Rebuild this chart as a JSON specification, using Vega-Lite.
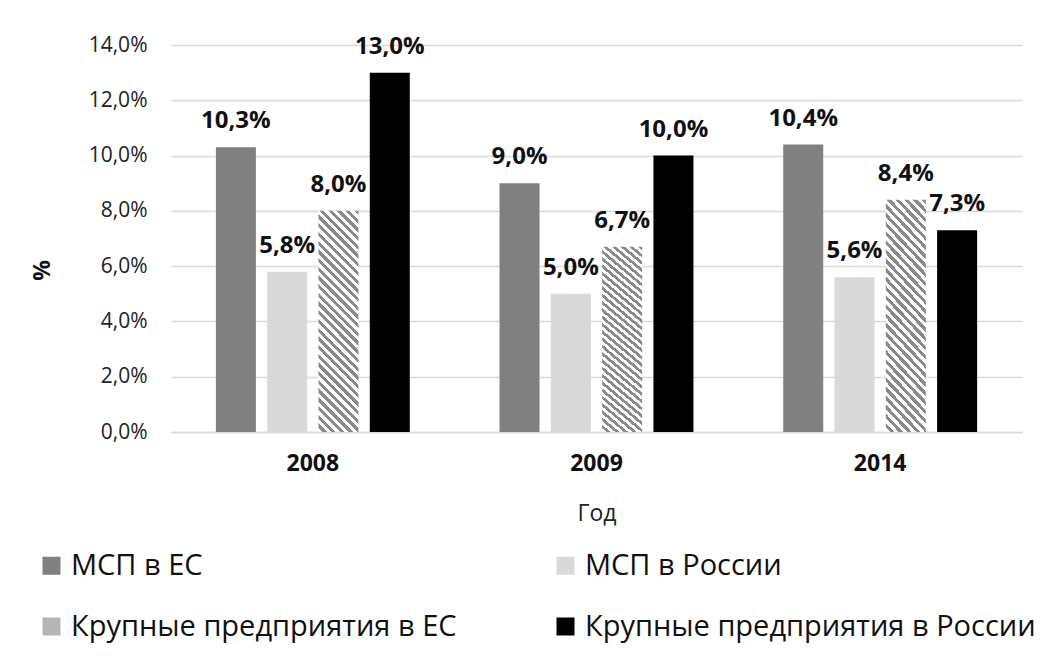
{
  "$schema": "https://vega.github.io/schema/vega-lite/v6.json",
  "autosize": "none",
  "width": 851,
  "height": 387,
  "padding": {"left": 171, "top": 45, "right": 29, "bottom": 240},
  "background": "#ffffff",
  "config": {
    "locale": {"number": {"decimal": ",", "thousands": " ", "grouping": [3], "currency": ["", " ₽"]}},
    "view": {"stroke": null},
    "font": "Open Sans"
  },
  "data": {
    "values": [
      {"year": "2008", "series": "МСП в ЕС", "value": 0.103},
      {"year": "2008", "series": "МСП в России", "value": 0.058},
      {"year": "2008", "series": "Крупные предприятия в ЕС", "value": 0.080},
      {"year": "2008", "series": "Крупные предприятия в России", "value": 0.130},
      {"year": "2009", "series": "МСП в ЕС", "value": 0.090},
      {"year": "2009", "series": "МСП в России", "value": 0.050},
      {"year": "2009", "series": "Крупные предприятия в ЕС", "value": 0.067},
      {"year": "2009", "series": "Крупные предприятия в России", "value": 0.100},
      {"year": "2014", "series": "МСП в ЕС", "value": 0.104},
      {"year": "2014", "series": "МСП в России", "value": 0.056},
      {"year": "2014", "series": "Крупные предприятия в ЕС", "value": 0.084},
      {"year": "2014", "series": "Крупные предприятия в России", "value": 0.073}
    ]
  },
  "encoding": {
    "x": {
      "field": "year", "type": "nominal",
      "scale": {"paddingInner": 0, "paddingOuter": 0},
      "axis": {
        "title": "Год", "titleFont": "Open Sans", "titleFontSize": 23, "titleFontWeight": "normal", "titleColor": "#222222",
        "titleBaseline": "middle", "titleY": 81,
        "labelAngle": 0, "labelFont": "Open Sans", "labelFontSize": 23, "labelFontWeight": "bold", "labelColor": "#111111",
        "labelPadding": 20, "ticks": false, "domainColor": "#d9d9d9", "domainWidth": 1.5
      }
    },
    "xOffset": {
      "field": "series", "type": "nominal",
      "sort": ["МСП в ЕС", "МСП в России", "Крупные предприятия в ЕС", "Крупные предприятия в России"],
      "scale": {"paddingInner": 0.22, "paddingOuter": 0.875}
    },
    "y": {
      "field": "value", "type": "quantitative",
      "scale": {"domain": [0, 0.14], "nice": false},
      "axis": {
        "values": [0, 0.02, 0.04, 0.06, 0.08, 0.1, 0.12, 0.14],
        "format": ".1%",
        "title": "%", "titleFont": "Open Sans", "titleFontSize": 23, "titleFontWeight": "bold", "titleColor": "#111111",
        "titleAngle": -90, "titleX": -129, "titleY": 225, "titleAlign": "center", "titleBaseline": "middle",
        "labelFont": "Open Sans", "labelFontSize": 21, "labelColor": "#222222", "labelPadding": 24,
        "ticks": false, "domain": false,
        "gridColor": "#d9d9d9", "gridWidth": 1.5
      }
    }
  },
  "layer": [
    {
      "mark": {"type": "bar"},
      "encoding": {
        "fill": {
          "condition": {
            "test": "datum.series === 'Крупные предприятия в ЕС'",
            "value": {"gradient": "linear", "x1": 1, "y1": 0, "x2": 0.793, "y2": 1.1435, "stops": [
                {"offset": 0, "color": "#8a8a8a"},
                {"offset": 0.0167, "color": "#8a8a8a"}, {"offset": 0.0167, "color": "#ffffff"},
                {"offset": 0.0333, "color": "#ffffff"}, {"offset": 0.0333, "color": "#8a8a8a"},
                {"offset": 0.05, "color": "#8a8a8a"}, {"offset": 0.05, "color": "#ffffff"},
                {"offset": 0.0667, "color": "#ffffff"}, {"offset": 0.0667, "color": "#8a8a8a"},
                {"offset": 0.0833, "color": "#8a8a8a"}, {"offset": 0.0833, "color": "#ffffff"},
                {"offset": 0.1, "color": "#ffffff"}, {"offset": 0.1, "color": "#8a8a8a"},
                {"offset": 0.1167, "color": "#8a8a8a"}, {"offset": 0.1167, "color": "#ffffff"},
                {"offset": 0.1333, "color": "#ffffff"}, {"offset": 0.1333, "color": "#8a8a8a"},
                {"offset": 0.15, "color": "#8a8a8a"}, {"offset": 0.15, "color": "#ffffff"},
                {"offset": 0.1667, "color": "#ffffff"}, {"offset": 0.1667, "color": "#8a8a8a"},
                {"offset": 0.1833, "color": "#8a8a8a"}, {"offset": 0.1833, "color": "#ffffff"},
                {"offset": 0.2, "color": "#ffffff"}, {"offset": 0.2, "color": "#8a8a8a"},
                {"offset": 0.2167, "color": "#8a8a8a"}, {"offset": 0.2167, "color": "#ffffff"},
                {"offset": 0.2333, "color": "#ffffff"}, {"offset": 0.2333, "color": "#8a8a8a"},
                {"offset": 0.25, "color": "#8a8a8a"}, {"offset": 0.25, "color": "#ffffff"},
                {"offset": 0.2667, "color": "#ffffff"}, {"offset": 0.2667, "color": "#8a8a8a"},
                {"offset": 0.2833, "color": "#8a8a8a"}, {"offset": 0.2833, "color": "#ffffff"},
                {"offset": 0.3, "color": "#ffffff"}, {"offset": 0.3, "color": "#8a8a8a"},
                {"offset": 0.3167, "color": "#8a8a8a"}, {"offset": 0.3167, "color": "#ffffff"},
                {"offset": 0.3333, "color": "#ffffff"}, {"offset": 0.3333, "color": "#8a8a8a"},
                {"offset": 0.35, "color": "#8a8a8a"}, {"offset": 0.35, "color": "#ffffff"},
                {"offset": 0.3667, "color": "#ffffff"}, {"offset": 0.3667, "color": "#8a8a8a"},
                {"offset": 0.3833, "color": "#8a8a8a"}, {"offset": 0.3833, "color": "#ffffff"},
                {"offset": 0.4, "color": "#ffffff"}, {"offset": 0.4, "color": "#8a8a8a"},
                {"offset": 0.4167, "color": "#8a8a8a"}, {"offset": 0.4167, "color": "#ffffff"},
                {"offset": 0.4333, "color": "#ffffff"}, {"offset": 0.4333, "color": "#8a8a8a"},
                {"offset": 0.45, "color": "#8a8a8a"}, {"offset": 0.45, "color": "#ffffff"},
                {"offset": 0.4667, "color": "#ffffff"}, {"offset": 0.4667, "color": "#8a8a8a"},
                {"offset": 0.4833, "color": "#8a8a8a"}, {"offset": 0.4833, "color": "#ffffff"},
                {"offset": 0.5, "color": "#ffffff"}, {"offset": 0.5, "color": "#8a8a8a"},
                {"offset": 0.5167, "color": "#8a8a8a"}, {"offset": 0.5167, "color": "#ffffff"},
                {"offset": 0.5333, "color": "#ffffff"}, {"offset": 0.5333, "color": "#8a8a8a"},
                {"offset": 0.55, "color": "#8a8a8a"}, {"offset": 0.55, "color": "#ffffff"},
                {"offset": 0.5667, "color": "#ffffff"}, {"offset": 0.5667, "color": "#8a8a8a"},
                {"offset": 0.5833, "color": "#8a8a8a"}, {"offset": 0.5833, "color": "#ffffff"},
                {"offset": 0.6, "color": "#ffffff"}, {"offset": 0.6, "color": "#8a8a8a"},
                {"offset": 0.6167, "color": "#8a8a8a"}, {"offset": 0.6167, "color": "#ffffff"},
                {"offset": 0.6333, "color": "#ffffff"}, {"offset": 0.6333, "color": "#8a8a8a"},
                {"offset": 0.65, "color": "#8a8a8a"}, {"offset": 0.65, "color": "#ffffff"},
                {"offset": 0.6667, "color": "#ffffff"}, {"offset": 0.6667, "color": "#8a8a8a"},
                {"offset": 0.6833, "color": "#8a8a8a"}, {"offset": 0.6833, "color": "#ffffff"},
                {"offset": 0.7, "color": "#ffffff"}, {"offset": 0.7, "color": "#8a8a8a"},
                {"offset": 0.7167, "color": "#8a8a8a"}, {"offset": 0.7167, "color": "#ffffff"},
                {"offset": 0.7333, "color": "#ffffff"}, {"offset": 0.7333, "color": "#8a8a8a"},
                {"offset": 0.75, "color": "#8a8a8a"}, {"offset": 0.75, "color": "#ffffff"},
                {"offset": 0.7667, "color": "#ffffff"}, {"offset": 0.7667, "color": "#8a8a8a"},
                {"offset": 0.7833, "color": "#8a8a8a"}, {"offset": 0.7833, "color": "#ffffff"},
                {"offset": 0.8, "color": "#ffffff"}, {"offset": 0.8, "color": "#8a8a8a"},
                {"offset": 0.8167, "color": "#8a8a8a"}, {"offset": 0.8167, "color": "#ffffff"},
                {"offset": 0.8333, "color": "#ffffff"}, {"offset": 0.8333, "color": "#8a8a8a"},
                {"offset": 0.85, "color": "#8a8a8a"}, {"offset": 0.85, "color": "#ffffff"},
                {"offset": 0.8667, "color": "#ffffff"}, {"offset": 0.8667, "color": "#8a8a8a"},
                {"offset": 0.8833, "color": "#8a8a8a"}, {"offset": 0.8833, "color": "#ffffff"},
                {"offset": 0.9, "color": "#ffffff"}, {"offset": 0.9, "color": "#8a8a8a"},
                {"offset": 0.9167, "color": "#8a8a8a"}, {"offset": 0.9167, "color": "#ffffff"},
                {"offset": 0.9333, "color": "#ffffff"}, {"offset": 0.9333, "color": "#8a8a8a"},
                {"offset": 0.95, "color": "#8a8a8a"}, {"offset": 0.95, "color": "#ffffff"},
                {"offset": 0.9667, "color": "#ffffff"}, {"offset": 0.9667, "color": "#8a8a8a"},
                {"offset": 0.9833, "color": "#8a8a8a"}, {"offset": 0.9833, "color": "#ffffff"},
                {"offset": 1, "color": "#ffffff"}
              ]}
          },
          "field": "series", "type": "nominal",
          "scale": {
            "domain": ["МСП в ЕС", "МСП в России", "Крупные предприятия в ЕС", "Крупные предприятия в России"],
            "range": ["#808080", "#d9d9d9", "#b5b5b5", "#000000"]
          },
          "legend": {
            "title": null, "orient": "none", "legendX": -134, "legendY": 506,
            "direction": "horizontal", "columns": 2, "columnPadding": 94, "rowPadding": 31,
            "symbolType": "square", "symbolSize": 324, "symbolStrokeWidth": 0,
            "labelFont": "Open Sans", "labelFontSize": 29, "labelColor": "#111111", "labelLimit": 0, "labelOffset": 5,
            "encode": {
              "symbols": {
                "update": {
                  "fill": [
                    {"test": "datum.value === 'Крупные предприятия в ЕС'", "value": {"gradient": "linear", "x1": 1, "y1": 0, "x2": 0, "y2": 1, "stops": [
                      {"offset": 0, "color": "#ffffff"}, {"offset": 0.14, "color": "#ffffff"},
                      {"offset": 0.14, "color": "#8a8a8a"}, {"offset": 0.28, "color": "#8a8a8a"},
                      {"offset": 0.28, "color": "#ffffff"}, {"offset": 0.43, "color": "#ffffff"},
                      {"offset": 0.43, "color": "#8a8a8a"}, {"offset": 0.57, "color": "#8a8a8a"},
                      {"offset": 0.57, "color": "#ffffff"}, {"offset": 0.72, "color": "#ffffff"},
                      {"offset": 0.72, "color": "#8a8a8a"}, {"offset": 0.86, "color": "#8a8a8a"},
                      {"offset": 0.86, "color": "#ffffff"}, {"offset": 1, "color": "#ffffff"}
                    ]}},
                    {"scale": "fill", "field": "value"}
                  ]
                }
              }
            }
          }
        }
      }
    },
    {
      "mark": {"type": "text", "baseline": "alphabetic", "dy": -19, "font": "Open Sans", "fontSize": 24, "fontWeight": "bold", "color": "#111111"},
      "encoding": {
        "text": {"field": "value", "type": "quantitative", "format": ".1%"}
      }
    }
  ]
}
